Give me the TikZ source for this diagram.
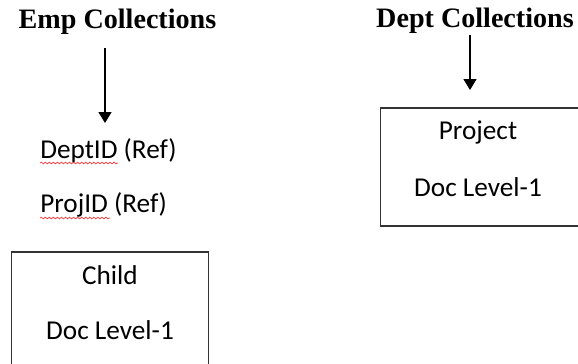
\documentclass[tikz,border=0pt]{standalone}
\usepackage{fontspec}
\setmainfont{Liberation Serif}
\newfontfamily\calibri{Carlito}
\usepackage{tikz}
\usetikzlibrary{arrows.meta,positioning,decorations.pathmorphing}

\begin{document}
\begin{tikzpicture}[
  x=0.02cm, y=-0.02cm,
  title/.style={font=\fontsize{16}{18}\selectfont\bfseries, inner sep=0pt},
  field/.style={font=\calibri\fontsize{15.5}{18}\selectfont, inner sep=0pt},
  docbox/.style={draw=black!80, line width=0.6pt, minimum width=3.95cm,
                 minimum height=2.36cm, inner sep=0pt},
  flow/.style={-{Triangle[width=0.26cm,length=0.22cm]}, line width=0.75pt},
  squiggle/.style={draw=red!85, line width=0.35pt,
                   decorate, decoration={snake, amplitude=0.5pt, segment length=2.3pt}}
]
\useasboundingbox (0,0) rectangle (578,363);
\clip (0,0) rectangle (578,363);

% Emp side
\node[title] (emp) at (117.5,22) {Emp Collections};
\node[field, anchor=west] (deptid) at (40,151) {DeptID (Ref)};
\node[field, anchor=west] (projid) at (40,205) {ProjID (Ref)};
\node[docbox] (child) at (110,311) {};
\node[field] (childname) at (110,275) {Child};
\node[field] (childlevel) at (110,330) {Doc Level-1};

% Dept side
\node[title] (dept) at (475,21) {Dept Collections};
\node[docbox] (project) at (479.5,167) {};
\node[field] (projname) at (478,132) {Project};
\node[field] (projlevel) at (478,187) {Doc Level-1};

% arrows
\coordinate (empa) at (105,48);
\coordinate (empb) at (105,123);
\draw[flow] (empa) -- (empb);
\coordinate (depta) at (470,35);
\coordinate (deptb) at (470,90);
\draw[flow] (depta) -- (deptb);

% spelling marks
\path[squiggle] (40,163) -- (118,163);
\path[squiggle] (40,218) -- (110,218);

\end{tikzpicture}
\end{document}
